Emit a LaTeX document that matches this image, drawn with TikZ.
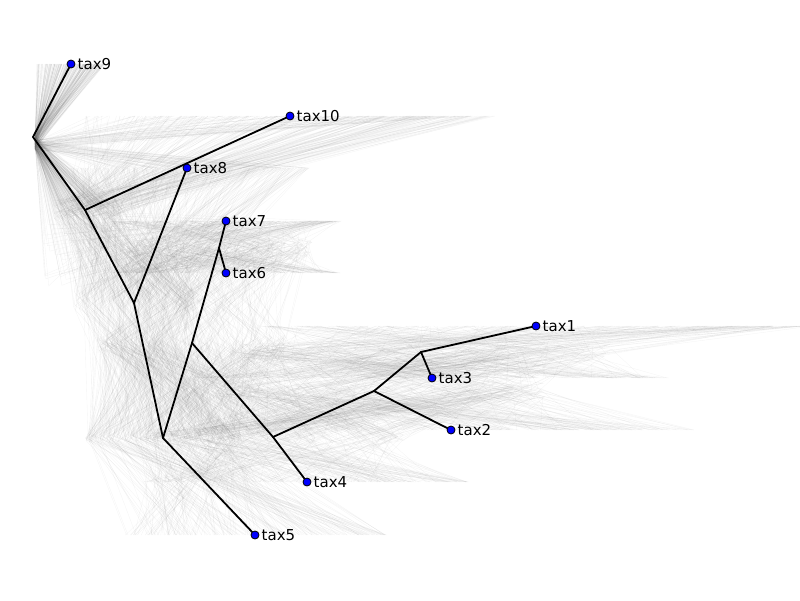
\documentclass[tikz,border=0pt]{standalone}
\usepackage{fontspec}
\setmainfont{DejaVu Sans}
% one jittered point of a sampled tree
\newcommand{\jitpt}[5]{%
  \pgfmathsetmacro{\jx}{max(35,#2+(#2-33)*#4*rand)}%
  \pgfmathsetmacro{\jy}{#3+#5*rand}%
  \coordinate (#1) at (\jx,\jy);}
\begin{document}
\begin{tikzpicture}[x=1pt,y=-1pt,
  branch/.style={line width=1.8pt,line cap=round},
  sample/.style={black!60,line width=0.35pt,opacity=0.07},
  tip/.style={circle,draw=black,fill=blue,line width=0.8pt,inner sep=0pt,minimum size=8pt},
  lab/.style={anchor=west,inner sep=0pt,xshift=6.5pt,font=\fontsize{15}{18}\selectfont}]
\useasboundingbox (0,0) rectangle (800,600);
% cloud of sampled trees
\pgfmathsetseed{4711}
\foreach \i in {1,...,230}{
  \jitpt{r1}{33}{142}{0}{7}
  \jitpt{r2}{85}{210}{0.6}{10}
  \jitpt{r3}{134}{303}{0.6}{12}
  \jitpt{r4}{163}{438}{0.6}{4}
  \jitpt{r5}{192}{343}{0.6}{8}
  \jitpt{r6}{219}{248}{0.5}{8}
  \jitpt{r7}{273}{437}{0.55}{6}
  \jitpt{r8}{374}{391}{0.5}{8}
  \jitpt{r9}{421}{352}{0.5}{8}
  \jitpt{s1}{536}{326}{0.55}{0}
  \jitpt{s2}{451}{430}{0.6}{0}
  \jitpt{s3}{432}{378}{0.6}{0}
  \jitpt{s4}{307}{482}{0.6}{0}
  \jitpt{s5}{255}{535}{0.6}{0}
  \jitpt{s6}{226}{273}{0.6}{0}
  \jitpt{s7}{226}{221}{0.6}{0}
  \jitpt{s8}{187}{168}{0.8}{0}
  \jitpt{s9}{71}{64}{0.9}{0}
  \jitpt{s10}{290}{116}{0.8}{0}
  \draw[sample] (s9) -- (r1) -- (r2) -- (r3) -- (r4) -- (s5);
  \draw[sample] (s10) -- (r2);
  \draw[sample] (s8) -- (r3);
  \draw[sample] (r4) -- (r5) -- (r6) -- (s7);
  \draw[sample] (r6) -- (s6);
  \draw[sample] (r5) -- (r7) -- (s4);
  \draw[sample] (r7) -- (r8) -- (r9) -- (s1);
  \draw[sample] (r9) -- (s3);
  \draw[sample] (r8) -- (s2);
}
% samples where tax10 and tax8 hang from the root
\foreach \i in {1,...,60}{
  \jitpt{r1}{33}{145}{0}{5}
  \jitpt{r2}{70}{250}{0.8}{40}
  \jitpt{s8}{187}{168}{0.8}{0}
  \jitpt{s10}{290}{116}{0.8}{0}
  \jitpt{s9}{71}{64}{0.9}{0}
  \jitpt{s7}{226}{221}{0.6}{0}
  \draw[sample] (s10) -- (r1) -- (s8);
  \draw[sample] (s9) -- (r1) -- (r2) -- (s7);
}
% summary tree
\coordinate (N1) at (33,137);
\coordinate (N2) at (85,210);
\coordinate (N3) at (134,303);
\coordinate (N4) at (163,438);
\coordinate (N5) at (192,343);
\coordinate (N6) at (219,248);
\coordinate (N7) at (273,437);
\coordinate (N8) at (374,391);
\coordinate (N9) at (421,352);
\coordinate (T1) at (536,326);
\coordinate (T2) at (451,430);
\coordinate (T3) at (432,378);
\coordinate (T4) at (307,482);
\coordinate (T5) at (255,535);
\coordinate (T6) at (226,273);
\coordinate (T7) at (226,221);
\coordinate (T8) at (187,168);
\coordinate (T9) at (71,64);
\coordinate (T10) at (290,116);
\draw[branch] (N1) -- (T9);
\draw[branch] (N1) -- (N2);
\draw[branch] (N2) -- (T10);
\draw[branch] (N2) -- (N3);
\draw[branch] (N3) -- (T8);
\draw[branch] (N3) -- (N4);
\draw[branch] (N4) -- (N5);
\draw[branch] (N4) -- (T5);
\draw[branch] (N5) -- (N6);
\draw[branch] (N5) -- (N7);
\draw[branch] (N6) -- (T7);
\draw[branch] (N6) -- (T6);
\draw[branch] (N7) -- (T4);
\draw[branch] (N7) -- (N8);
\draw[branch] (N8) -- (N9);
\draw[branch] (N8) -- (T2);
\draw[branch] (N9) -- (T1);
\draw[branch] (N9) -- (T3);
\node[tip] (tax1) at (T1) {};
\node[lab] (lab1) at (T1) {tax1};
\node[tip] (tax2) at (T2) {};
\node[lab] (lab2) at (T2) {tax2};
\node[tip] (tax3) at (T3) {};
\node[lab] (lab3) at (T3) {tax3};
\node[tip] (tax4) at (T4) {};
\node[lab] (lab4) at (T4) {tax4};
\node[tip] (tax5) at (T5) {};
\node[lab] (lab5) at (T5) {tax5};
\node[tip] (tax6) at (T6) {};
\node[lab] (lab6) at (T6) {tax6};
\node[tip] (tax7) at (T7) {};
\node[lab] (lab7) at (T7) {tax7};
\node[tip] (tax8) at (T8) {};
\node[lab] (lab8) at (T8) {tax8};
\node[tip] (tax9) at (T9) {};
\node[lab] (lab9) at (T9) {tax9};
\node[tip] (tax10) at (T10) {};
\node[lab] (lab10) at (T10) {tax10};
\end{tikzpicture}
\end{document}
